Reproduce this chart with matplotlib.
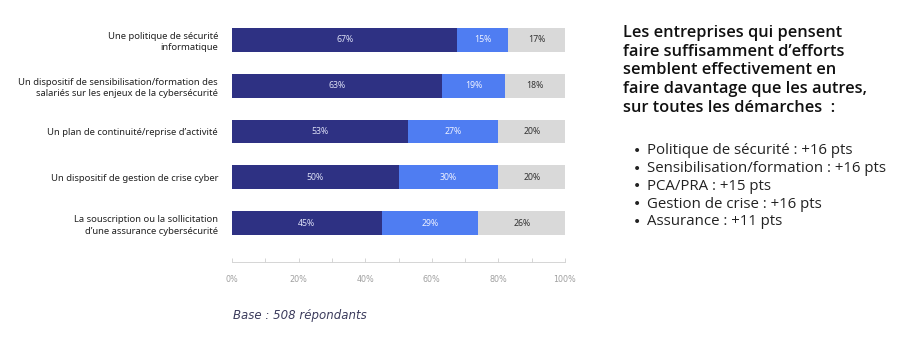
import matplotlib
matplotlib.use("Agg")
import matplotlib.pyplot as plt
import numpy as np

categories = [
    "Une politique de sécurité\ninformatique",
    "Un dispositif de sensibilisation/formation des\nsalariés sur les enjeux de la cybersécurité",
    "Un plan de continuité/reprise d’activité",
    "Un dispositif de gestion de crise cyber",
    "La souscription ou la sollicitation\nd’une assurance cybersécurité",
]
dark_vals = [67, 63, 53, 50, 45]
blue_vals = [15, 19, 27, 30, 29]
gray_vals = [17, 18, 20, 20, 26]
tick_vals = [0, 20, 40, 60, 80, 100]
tick_labels = ["0%", "20%", "40%", "60%", "80%", "100%"]

title = ("Les entreprises qui pensent\nfaire suffisamment d’efforts\nsemblent effectivement en\n"
         "faire davantage que les autres,\nsur toutes les démarches  :")
bullets = [
    "Politique de sécurité : +16 pts",
    "Sensibilisation/formation : +16 pts",
    "PCA/PRA : +15 pts",
    "Gestion de crise : +16 pts",
    "Assurance : +11 pts",
]
base_note = "Base : 508 répondants"

c_dark = "#2e3183"
c_blue = "#4f7df2"
c_gray = "#d9d9d9"

fig = plt.figure(figsize=(9.10, 3.37), dpi=100)
ax = fig.add_axes([232/910, 75/337, 333/910, 245/337])

dark = np.array(dark_vals, float)
blue = np.array(blue_vals, float)
gray = np.array(gray_vals, float)
tot = dark + blue + gray
d = dark / tot * 100
b = blue / tot * 100
g = gray / tot * 100
y = np.arange(len(categories))
h = 0.52
ax.barh(y, d, height=h, color=c_dark)
ax.barh(y, b, left=d, height=h, color=c_blue)
ax.barh(y, g, left=d + b, height=h, color=c_gray)

for i in range(len(categories)):
    ax.text(d[i] / 2, y[i], f"{dark_vals[i]}%", ha="center", va="center",
            fontsize=6.3, color="#dcdff5", family="Noto Sans")
    ax.text(d[i] + b[i] / 2, y[i], f"{blue_vals[i]}%", ha="center", va="center",
            fontsize=6.3, color="#eef1ff", family="Noto Sans")
    ax.text(d[i] + b[i] + g[i] / 2, y[i], f"{gray_vals[i]}%", ha="center", va="center",
            fontsize=6.3, color="#333333", family="Noto Sans")

ax.set_xlim(0, 100)
ax.set_ylim(4.85, -0.5)
ax.set_yticks(y)
ax.set_yticklabels(categories, fontsize=6.8, color="#222222", family="Noto Sans",
                   linespacing=1.35)
ax.tick_params(axis="y", length=0, pad=10)
ax.set_xticks(tick_vals)
ax.set_xticklabels(tick_labels, fontsize=5.8, color="#a0a0a0", family="DejaVu Sans")
ax.set_xticks(np.arange(10, 100, 20), minor=True)
ax.tick_params(axis="x", which="both", direction="in", length=3, width=0.6,
               color="#cfcfcf", pad=9)
for s in ["top", "right", "left"]:
    ax.spines[s].set_visible(False)
ax.spines["bottom"].set_color("#cfcfcf")
ax.spines["bottom"].set_linewidth(0.6)

fig.text(233/910, 1 - 316/337, base_note, fontsize=8.5, style="italic",
         color="#3b3b5c", family="DejaVu Sans", va="center", ha="left")

fig.text(623/910, 1 - 25/337, title, fontsize=11.8, fontweight="semibold",
         color="#111111", family="Open Sans", va="top", ha="left", linespacing=1.22)

for i, t in enumerate(bullets):
    yy = 1 - (151 + i * 17.7) / 337
    fig.text(633/910, yy, "•", fontsize=10, color="#222222", family="DejaVu Sans",
             va="center", ha="left")
    fig.text(647/910, yy, t, fontsize=10.8, color="#222222", family="Open Sans",
             va="center", ha="left")

fig.savefig("out.png", dpi=100)
